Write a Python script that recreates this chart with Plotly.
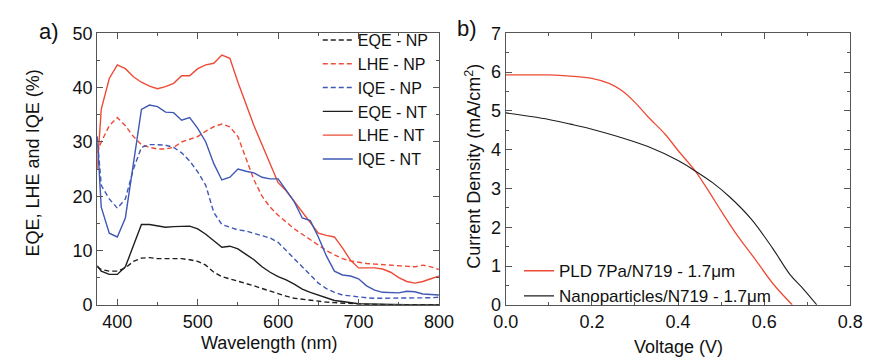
import plotly.graph_objects as go

# ---------------- Panel a data ----------------
wl = [375, 380, 390, 400, 410, 420, 430, 440, 450, 460, 470, 480, 490, 500,
      510, 520, 530, 540, 550, 560, 570, 580, 590, 600, 610, 620, 630, 640,
      650, 660, 670, 680, 690, 700, 710, 720, 730, 740, 750, 760, 770, 780,
      790, 800]

eqe_np = [7.0, 6.5, 6.2, 6.2, 6.8, 8.0, 8.6, 8.7, 8.5, 8.5, 8.5, 8.5, 8.3, 8.0,
          7.3, 6.0, 5.2, 4.8, 4.4, 4.0, 3.5, 3.0, 2.5, 2.0, 1.6, 1.2, 1.0, 0.8,
          0.6, 0.5, 0.4, 0.3, 0.2, 0.1, 0.08, 0.05, 0.03, 0.02, 0.0, 0.0, 0.0, 0.0,
          0.0, 0.0]
lhe_np = [28.0, 30.0, 33.0, 34.5, 33.0, 31.0, 29.5, 29.0, 28.7, 28.7, 29.0, 30.0, 30.5, 31.0,
          32.0, 32.8, 33.3, 32.8, 31.0, 27.0, 23.0, 20.0, 18.0, 16.5, 15.2, 14.0, 13.0, 12.0,
          11.0, 10.0, 9.2, 8.5, 8.1, 7.8, 7.6, 7.5, 7.4, 7.2, 7.1, 7.0, 7.0, 7.3,
          7.0, 6.5]
iqe_np = [31.0, 22.0, 19.5, 17.8, 19.5, 25.0, 29.0, 29.5, 29.5, 29.4, 29.0, 28.0, 26.5, 24.5,
          22.0, 17.0, 14.8, 14.3, 13.8, 13.6, 13.2, 12.8, 12.3, 11.5, 10.0, 8.5, 7.0, 5.5,
          4.0, 3.0, 2.3, 1.8, 1.6, 1.4, 1.3, 1.2, 1.2, 1.2, 1.2, 1.2, 1.2, 1.3,
          1.3, 1.4]
eqe_nt = [7.2, 6.2, 5.6, 5.6, 7.0, 11.0, 14.8, 14.8, 14.5, 14.3, 14.4, 14.5, 14.5, 14.0,
          13.0, 11.8, 10.6, 10.8, 10.3, 9.3, 8.3, 7.0, 6.0, 5.2, 4.6, 3.8, 2.9, 2.3,
          1.8, 1.2, 0.8, 0.6, 0.4, 0.2, 0.15, 0.1, 0.08, 0.05, 0.05, 0.03, 0.02, 0.0,
          0.0, 0.0]
lhe_nt = [25.0, 36.0, 41.7, 44.2, 43.5, 42.0, 41.0, 40.3, 39.8, 40.2, 40.8, 42.2, 42.2, 43.5,
          44.2, 44.5, 46.0, 45.4, 41.0, 37.0, 33.0, 29.5, 26.0, 22.5, 21.0, 19.0, 17.0, 15.0,
          13.2, 12.8, 12.5, 10.5, 8.2, 6.8, 6.8, 6.8, 6.6, 6.0, 5.0, 4.3, 4.0, 4.3,
          4.8, 5.3]
iqe_nt = [31.0, 18.0, 13.2, 12.5, 16.0, 26.0, 36.0, 36.8, 36.5, 35.5, 35.4, 34.0, 34.5, 32.5,
          30.0, 26.0, 23.0, 23.5, 25.0, 24.6, 24.3, 23.5, 23.2, 23.2, 21.0, 19.0, 16.0, 15.5,
          12.5, 9.0, 6.2, 5.5, 5.3, 4.8, 3.5, 2.7, 2.3, 2.2, 2.2, 2.5, 2.4, 2.0,
          1.9, 1.8]

# ---------------- Panel b data ----------------
v_pld = [0.0, 0.05, 0.10, 0.15, 0.20, 0.24, 0.27, 0.30, 0.33, 0.37, 0.40, 0.44, 0.47,
         0.50, 0.54, 0.58, 0.62, 0.665]
j_pld = [5.93, 5.93, 5.93, 5.90, 5.84, 5.71, 5.52, 5.22, 4.85, 4.40, 3.98, 3.45, 2.95,
         2.42, 1.75, 1.16, 0.55, 0.0]
v_np = [0.0, 0.05, 0.10, 0.15, 0.20, 0.26, 0.33, 0.40, 0.44, 0.48, 0.52, 0.57, 0.62,
        0.66, 0.69, 0.722]
j_np = [4.95, 4.87, 4.78, 4.66, 4.53, 4.34, 4.08, 3.72, 3.45, 3.15, 2.78, 2.21, 1.45,
        0.78, 0.42, 0.0]

RED = "#EE4B36"
BLUE = "#3F58B5"
BLACK = "#1E1E1E"
FONT = "Liberation Sans, Arial, sans-serif"
DASH = "5px,3px"

fig = go.Figure()

series_a = [
    ("EQE - NP", eqe_np, BLACK, DASH),
    ("LHE - NP", lhe_np, RED, DASH),
    ("IQE - NP", iqe_np, BLUE, DASH),
    ("EQE - NT", eqe_nt, BLACK, "solid"),
    ("LHE - NT", lhe_nt, RED, "solid"),
    ("IQE - NT", iqe_nt, BLUE, "solid"),
]
for name, ys, col, dash in series_a:
    fig.add_trace(go.Scatter(x=wl, y=ys, name=name, mode="lines",
                             line=dict(color=col, width=1.4, dash=dash),
                             xaxis="x", yaxis="y", legend="legend"))

fig.add_trace(go.Scatter(x=v_pld, y=j_pld, name="PLD 7Pa/N719 - 1.7\u03bcm", mode="lines",
                         line=dict(color=RED, width=1.3, shape="spline"),
                         xaxis="x2", yaxis="y2", legend="legend2"))
fig.add_trace(go.Scatter(x=v_np, y=j_np, name="Nanoparticles/N719 - 1.7\u03bcm", mode="lines",
                         line=dict(color=BLACK, width=1.1, shape="spline"),
                         xaxis="x2", yaxis="y2", legend="legend2"))

axcol = "#555555"
common = dict(showgrid=False, zeroline=False, showline=True, linecolor=axcol, linewidth=1.2,
              mirror="allticks", ticks="inside", ticklen=6, tickcolor=axcol, tickwidth=1,
              tickfont=dict(family=FONT, size=18, color="#111111"))

ydom = [0.143, 0.932]
fig.update_layout(
    width=877, height=364,
    margin=dict(l=0, r=0, t=0, b=0),
    paper_bgcolor="white", plot_bgcolor="white",
    font=dict(family=FONT, size=17, color="#111111"),
    xaxis=dict(domain=[0.0992, 0.5017], range=[375, 800], tickvals=[400, 500, 600, 700, 800],
               minor=dict(dtick=50, tick0=0, ticks="inside", ticklen=3, tickcolor=axcol),
               anchor="y", **common),
    yaxis=dict(domain=ydom, range=[0, 50], dtick=10,
               minor=dict(dtick=5, ticks="inside", ticklen=3, tickcolor=axcol),
               anchor="x", **common),
    xaxis2=dict(domain=[0.5804, 0.9863], range=[0, 0.8], dtick=0.2, tickformat=".1f",
                minor=dict(dtick=0.1, ticks="inside", ticklen=3, tickcolor=axcol),
                anchor="y2", **common),
    yaxis2=dict(domain=ydom, range=[0, 7], dtick=1,
                minor=dict(dtick=0.5, ticks="inside", ticklen=3, tickcolor=axcol),
                anchor="x2", **common),
    legend=dict(x=0.359, y=0.962, xanchor="left", yanchor="top", bgcolor="rgba(0,0,0,0)",
                font=dict(family=FONT, size=16, color="#111111"), tracegroupgap=0,
                itemwidth=30),
    legend2=dict(x=0.596, y=0.293, xanchor="left", yanchor="top", bgcolor="rgba(0,0,0,0)",
                 font=dict(family=FONT, size=17, color="#111111"), tracegroupgap=0),
    showlegend=True,
)

ann = [
    dict(text="a)", x=37, y=23, size=22, angle=0),
    dict(text="b)", x=469, y=20, size=22, angle=0),
    dict(text="EQE, LHE and IQE (%)", x=21, y=162, size=18, angle=-90),
    dict(text="Wavelength (nm)", x=264, y=352, size=18, angle=0),
    dict(text="Current Density (mA/cm<sup>2</sup>)", x=476, y=165, size=18, angle=-90),
    dict(text="Voltage (V)", x=687, y=357, size=18, angle=0),
]
for a in ann:
    fig.add_annotation(text=a["text"], x=a["x"] / 877, y=1 - a["y"] / 364,
                       xref="paper", yref="paper", xanchor="center", yanchor="middle",
                       showarrow=False, textangle=a["angle"],
                       font=dict(family=FONT, size=a["size"], color="#111111"))

fig.write_html("out.html")
